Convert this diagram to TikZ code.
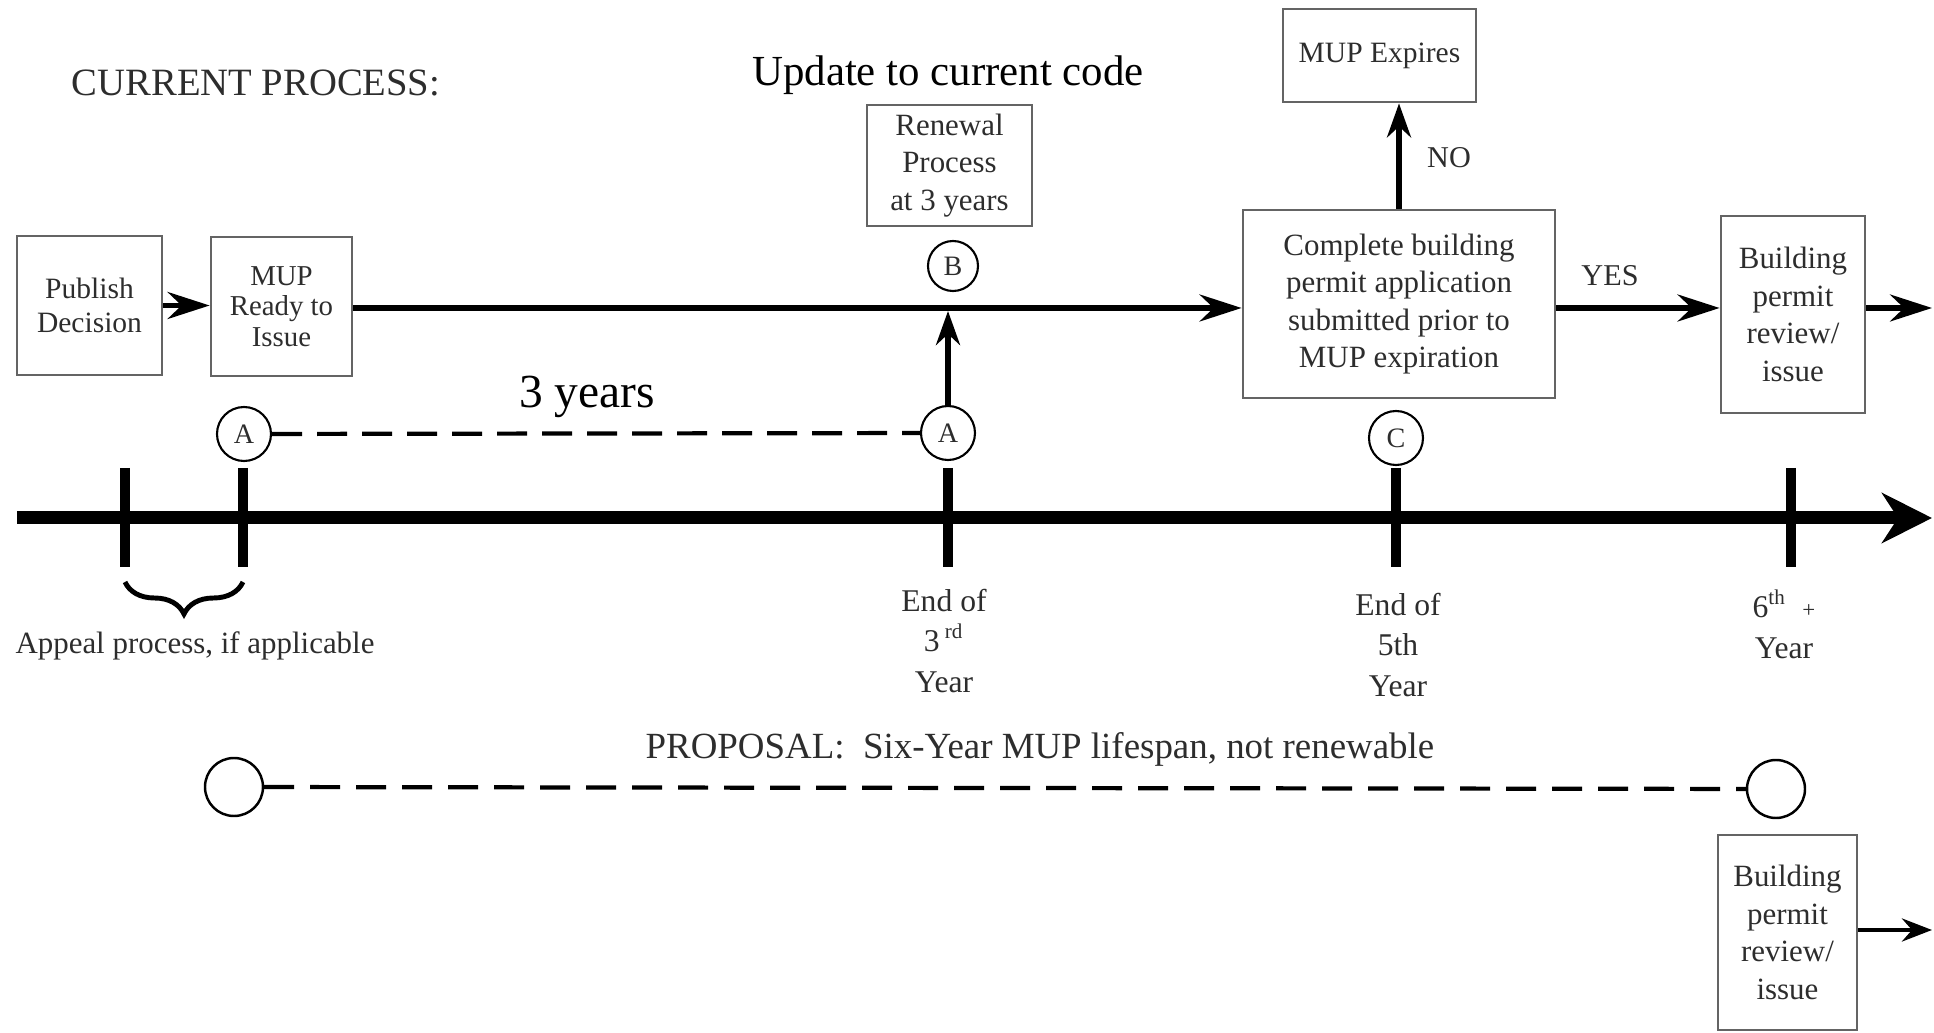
\documentclass[tikz,border=0pt]{standalone}
\usepackage{fontspec}
\setmainfont{Liberation Serif}
\usetikzlibrary{arrows.meta,decorations.pathreplacing}
\definecolor{boxgray}{RGB}{100,100,100}
\definecolor{txtgray}{RGB}{45,45,45}
\begin{document}
\begin{tikzpicture}[x=0.1mm,y=-0.1mm,
  box/.style={draw=boxgray, line width=0.8pt, align=center, inner sep=0pt,
    text=txtgray, font=\fontsize{8.8}{10.7}\selectfont},
  arr/.style={line width=1.5pt, -{Stealth[length=4.2mm,width=2.7mm,inset=1.4mm]}},
  uparr/.style={line width=1.5pt, -{Stealth[length=3.4mm,width=2.4mm,inset=1.1mm]}},
  circ/.style={circle, draw, line width=0.6pt, inner sep=0pt, minimum size=5.4mm,
    text=txtgray, font=\fontsize{8}{9}\selectfont},
  pcirc/.style={circle, draw, line width=0.7pt, inner sep=0pt, minimum size=5.8mm},
  dashline/.style={line width=1.2pt, dash pattern=on 3mm off 1.5mm},
  tick/.style={line width=2.8pt},
  lbl/.style={text=txtgray, align=center, font=\fontsize{9}{11.6}\selectfont},
  big/.style={font=\fontsize{12.2}{14}\selectfont}
]
\useasboundingbox (0,0) rectangle (1934,1033);

% titles
\node[lbl, font=\fontsize{11}{13}\selectfont] (title) at (256,83) {CURRENT PROCESS:};
\node[big] (upd) at (948,75) {Update to current code};

% boxes
\node[box, minimum width=14.5mm, minimum height=13.9mm, font=\fontsize{8.4}{9.5}\selectfont] (pub) at (89.5,305.5) {Publish\\Decision};
\node[box, minimum width=14.1mm, minimum height=13.9mm, font=\fontsize{8.2}{8.6}\selectfont] (mup) at (281.5,306.5) {MUP\\Ready to\\Issue};
\node[box, minimum width=16.5mm, minimum height=12.1mm] (ren) at (949.5,165.5) {Renewal\\Process\\at 3 years};
\node[box, minimum width=19.3mm, minimum height=9.3mm, font=\fontsize{8.4}{10}\selectfont] (exp) at (1379.5,55.5) {MUP Expires};
\node[box, minimum width=31.2mm, minimum height=18.8mm] (comp) at (1399,304) {Complete building\\permit application\\submitted prior to\\MUP expiration};
\node[box, minimum width=14.4mm, minimum height=19.7mm] (bld) at (1793,314.5) {Building\\permit\\review/\\issue};
\node[box, minimum width=13.9mm, minimum height=19.5mm] (bldb) at (1787.5,932.5) {Building\\permit\\review/\\issue};

% circles
\node[circ] (a1) at (244,434) {A};
\node[circ] (a2) at (948,433) {A};
\node[circ, minimum size=5mm] (b) at (953,266) {B};
\node[circ] (c) at (1396,438) {C};
\node[pcirc] (p1) at (234,787) {};
\node[pcirc] (p2) at (1776,789) {};

% connectors of the current process
\coordinate (out1) at (1932,308);
\coordinate (out2) at (1932,930);
\coordinate (mainB) at (948,311);
\draw[arr] (pub.east) -- (pub.east -| mup.west);
\draw[arr] (mup.east |- 0,308) -- (comp.west |- 0,308);
\draw[arr] (comp.east |- 0,308) -- (bld.west |- 0,308);
\draw[arr] (bld.east |- 0,308) -- (out1);
\draw[uparr] (comp.north) -- (comp.north |- exp.south);
\draw[uparr] (a2.north) -- (mainB);
\draw[line width=1.3pt, -{Stealth[length=3mm,width=2.3mm,inset=1mm]}] (bldb.east |- out2) -- (out2);

\node[lbl, font=\fontsize{8.6}{10}\selectfont] (no) at (1449,158) {NO};
\node[lbl, font=\fontsize{8.6}{10}\selectfont] (yes) at (1610,276) {YES};

% 3 years
\draw[dashline] (a1) -- (a2);
\node[font=\fontsize{13.5}{15}\selectfont] (three) at (587,397) {3 years};

% timeline
\coordinate (t0) at (17,518);
\coordinate (t1) at (1932,518);
\draw[line width=3.7pt, -{Stealth[length=5mm,width=5mm,inset=1.6mm]}] (t0) -- (t1);
\foreach \tx in {125,243,948,1396,1791}
  \draw[tick] (\tx,468) -- (\tx,567);

% brace
\draw[line width=1.4pt, decorate, decoration={brace, mirror, amplitude=3.2mm}] (125,582) -- (243,582);
\node[lbl, font=\fontsize{8.8}{10}\selectfont] (appeal) at (195,646) {Appeal process, if applicable};

% tick labels
\node[lbl] (e3) at (944,641) {End of\\3\,\textsuperscript{rd}\\Year};
\node[lbl] (e5) at (1398,645) {End of\\5th\\Year};
\node[lbl] (e6) at (1784,624) {6\textsuperscript{th}\ \ {\fontsize{6.5}{7}\selectfont +}\\Year};

% proposal
\node[lbl, font=\fontsize{10.5}{12}\selectfont] (prop) at (1040,749) {PROPOSAL:\ \ Six-Year MUP lifespan, not renewable};
\draw[dashline, dash pattern=on 3mm off 1.6mm] (p1) -- (p2);
\end{tikzpicture}
\end{document}
